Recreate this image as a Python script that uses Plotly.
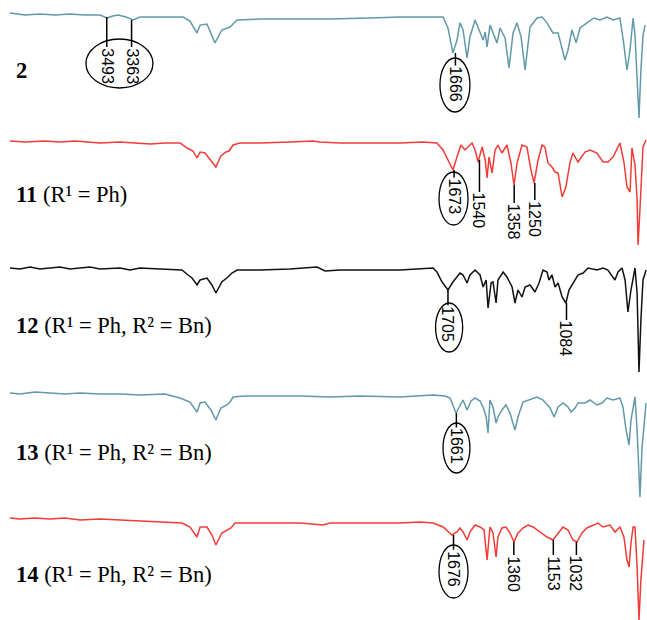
import plotly.graph_objects as go

# ---------------- data (wavenumber cm-1, transmittance %) ----------------
wn_2 = [4000, 3921, 3843, 3764, 3686, 3607, 3528, 3492, 3466, 3434, 3392, 3355, 3319, 3214, 3093,
        3057, 3020, 3004, 2968, 2926, 2890, 2847, 2837, 2810, 2690, 2480, 2323, 2114, 1956, 1731,
        1705, 1679, 1658, 1642, 1626, 1605, 1590, 1563, 1537, 1521, 1510, 1500, 1485, 1469, 1448,
        1432, 1406, 1385, 1364, 1343, 1322, 1301, 1275, 1238, 1212, 1186, 1155, 1128, 1107, 1092,
        1076, 1055, 1034, 1013, 977, 940, 908, 872, 840, 804, 783, 767, 751, 735, 725, 714, 704,
        694, 683, 672]
t_2 = [96, 94, 95, 94, 95, 94, 94, 91.4, 93, 94, 92.3, 89.6, 92.3, 92.3, 92.3,
       88.7, 77.9, 85, 86, 69, 80.6, 83.3, 85, 89.6, 90.5, 90.5, 90.5, 91.4, 92.3, 92.3,
       82.4, 60, 71.3, 87, 80.6, 55.4, 74.3, 89.6, 78, 71.6, 78.8, 65.3, 85, 78, 69,
       82.4, 73.4, 46.4, 78, 87, 74.3, 44.6, 83.3, 91.4, 92.3, 87, 78, 78, 62.6, 53.6,
       62.6, 80.6, 69, 82.4, 87, 91.4, 89.6, 92.3, 89.6, 91.4, 67, 44.6, 62.6, 91.4, 76, 35.6, 1.4,
       44.6, 76, 85]

wn_11 = [4000, 3921, 3817, 3738, 3659, 3528, 3424, 3319, 3266, 3188, 3109, 3072, 3041, 3020, 3004,
         2978, 2947, 2921, 2895, 2868, 2852, 2831, 2795, 2690, 2533, 2412, 2376, 2271, 2114, 1956,
         1836, 1763, 1731, 1705, 1679, 1658, 1637, 1616, 1600, 1579, 1563, 1547, 1526, 1510, 1500,
         1490, 1474, 1458, 1443, 1422, 1396, 1375, 1359, 1343, 1317, 1291, 1270, 1254, 1233, 1212,
         1197, 1181, 1160, 1144, 1128, 1107, 1087, 1066, 1050, 1024, 987, 961, 924, 893, 867, 840,
         804, 783, 767, 751, 741, 725, 714, 709, 699, 683, 667]
t_11 = [95.9, 95, 95.9, 95, 95.9, 94.1, 95, 94.1, 93.2, 94.1, 94.1, 89.6, 86.9, 80.6, 86,
        85.1, 78.8, 72.5, 82.4, 86, 86.9, 92.3, 94.1, 94.1, 95, 95.9, 95, 94.1, 94.1, 94.1,
        95, 94.1, 87.8, 78.8, 69.8, 81.5, 92.3, 87.8, 90.5, 94.1, 87.8, 77, 90.5, 78.8, 62.6,
        81.5, 67.1, 87.8, 92.3, 85.1, 92.3, 76.1, 56.3, 76.1, 92.3, 90.5, 69.8, 58.1, 78.8, 92.3,
        90.5, 76.1, 72.5, 68, 67.1, 45.5, 54.5, 76.1, 85.1, 77, 86, 87.8, 85.1, 77, 77, 81.5,
        94.1, 77, 54.5, 50, 89.6, 74.3, 42.8, 2.3, 34.4, 90.5, 96.8]

wn_12 = [4000, 3948, 3895, 3843, 3790, 3738, 3686, 3633, 3581, 3528, 3424, 3371, 3319, 3214, 3099,
         3067, 3046, 3020, 3004, 2968, 2942, 2921, 2890, 2858, 2837, 2810, 2690, 2533, 2391, 2349,
         2271, 2114, 1956, 1783, 1763, 1736, 1705, 1679, 1642, 1626, 1605, 1590, 1563, 1537, 1521,
         1505, 1495, 1479, 1469, 1453, 1443, 1416, 1396, 1369, 1354, 1338, 1317, 1301, 1275, 1249,
         1228, 1207, 1186, 1176, 1160, 1144, 1128, 1107, 1087, 1071, 1050, 1024, 997, 971, 924,
         893, 867, 846, 830, 814, 793, 777, 762, 746, 725, 714, 704, 694, 683, 667]
t_12 = [95, 94.1, 95.9, 94.1, 95, 95.9, 94.1, 95, 95.9, 94.1, 95, 93.2, 95, 94.1, 93.2,
        88.7, 86, 79.7, 84.2, 86, 79.7, 72.5, 82.4, 86.9, 90.5, 93.2, 93.2, 94.1, 95.9, 92.3,
        93.2, 93.2, 93.2, 95, 91.4, 82.4, 75.2, 82.4, 90.5, 88.7, 81.5, 88.7, 93.2, 88.7, 77.9,
        84.2, 59, 81.5, 82.4, 63.5, 84.2, 91.4, 86.9, 77.9, 63.5, 75.2, 68.9, 77.9, 79.7, 73.4,
        81.5, 93.2, 91.4, 84.2, 88.7, 77.9, 81.5, 68.9, 63.5, 75.2, 81.5, 88.7, 90.5, 95, 93.2,
        95, 93.2, 88.7, 84.2, 91.4, 95, 84.2, 55.4, 75.2, 95, 72.5, 1.4, 48.2, 84.2, 93.2]

wn_13 = [4000, 3948, 3869, 3790, 3712, 3633, 3528, 3424, 3319, 3188, 3109, 3057, 3020, 3004, 2978,
         2947, 2921, 2895, 2863, 2847, 2831, 2769, 2638, 2480, 2323, 2166, 1956, 1783, 1721, 1694,
         1663, 1642, 1626, 1605, 1584, 1563, 1537, 1521, 1505, 1495, 1485, 1469, 1453, 1443, 1422,
         1401, 1380, 1354, 1338, 1312, 1286, 1238, 1207, 1170, 1149, 1128, 1102, 1076, 1060, 1039,
         1024, 987, 961, 924, 898, 872, 840, 804, 788, 772, 756, 746, 725, 714, 699, 688, 667]
t_13 = [95, 94.1, 95.9, 95, 94.1, 95, 94.1, 94.1, 93.2, 94.1, 90.5, 86.9, 77.9, 86, 86.9,
        79.7, 70.7, 81.5, 84.2, 86.9, 91.4, 92.3, 92.3, 92.3, 91.4, 92.3, 91.4, 93.2, 92.3, 90.5,
        77, 84.2, 88.7, 79.7, 87.8, 90.5, 87.8, 82.4, 73.4, 59, 88.7, 82.4, 68, 73.4, 79.7,
        84.2, 77, 61.7, 73.4, 86.9, 88.7, 91.4, 88.7, 81.5, 73.4, 82.4, 86, 82.4, 77.9, 81.5,
        86, 86, 88.7, 84.2, 86, 90.5, 88.7, 90.5, 82.4, 61.7, 48.2, 70.7, 91.4, 61.7, 1.4, 46.4, 86]

wn_14 = [4000, 3948, 3869, 3790, 3712, 3633, 3528, 3424, 3319, 3178, 3099, 3057, 3020, 3004, 2968,
         2942, 2921, 2890, 2863, 2842, 2821, 2690, 2480, 2360, 2323, 2114, 1956, 1852, 1783, 1731,
         1684, 1658, 1642, 1626, 1605, 1590, 1563, 1537, 1516, 1500, 1485, 1469, 1453, 1443, 1422,
         1401, 1380, 1359, 1338, 1312, 1286, 1259, 1223, 1186, 1155, 1128, 1102, 1076, 1050, 1029,
         1003, 977, 945, 919, 893, 856, 830, 804, 783, 767, 756, 746, 735, 725, 714, 704, 694, 678]
t_14 = [95, 94.1, 95, 94.1, 95, 93.2, 94.1, 93.2, 92.3, 91.4, 90.5, 86.9, 77.9, 86.9, 86.9,
        79.7, 70.7, 81.5, 84.2, 86, 90.5, 90.5, 90.5, 88.7, 90.5, 90.5, 90.5, 91.4, 90.5, 86.9,
        79.7, 82.4, 86, 82.4, 75.2, 82.4, 88.7, 86.9, 84.2, 57.2, 86.9, 81.5, 59.9, 77.9, 86,
        86.9, 81.5, 73.4, 81.5, 86, 88.7, 86.9, 82.4, 77.9, 75.2, 81.5, 86.9, 84.2, 75.2, 73.4,
        81.5, 86, 88.7, 90.5, 86.9, 88.7, 82.4, 86.9, 77.9, 57.2, 50.9, 72.5, 86.9, 86.9, 50.9, 3.2, 39.2, 75.2]

compound_labels = ["<b>2</b>", "<b>11</b> (R¹ = Ph)", "<b>12</b> (R¹ = Ph, R² = Bn)",
                   "<b>13</b> (R¹ = Ph, R² = Bn)", "<b>14</b> (R¹ = Ph, R² = Bn)"]

# peak labels per spectrum (cm-1)
peaks_2 = [3493, 3363, 1666]
peaks_11 = [1673, 1540, 1358, 1250]
peaks_12 = [1705, 1084]
peaks_13 = [1661]
peaks_14 = [1676, 1360, 1153, 1032]

# ---------------- layout / styling ----------------
W, H = 647, 620
TEAL = "#6199a9"
RED = "#f23b36"
BLACK = "#111111"

spectra = [
    (wn_2, t_2, TEAL, 14),
    (wn_11, t_11, RED, 142),
    (wn_12, t_12, BLACK, 268),
    (wn_13, t_13, TEAL, 393),
    (wn_14, t_14, RED, 518),
]
label_py = [71, 195, 325, 452, 574]

# tick-line geometry (T start, T end of line) for each peak label, per spectrum
tick_geom = [
    [(92.3, 65.3), (89.6, 65.3), (59.9, 48.6)],
    [(69.8, 63.0), (78.8, 50.0), (56.3, 40.1), (58.1, 42.8)],
    [(75.2, 61.5), (63.5, 48.2)],
    [(77.0, 64.0)],
    [(79.7, 66.5), (73.4, 61.7), (75.2, 61.7), (73.4, 61.7)],
]
all_peaks = [peaks_2, peaks_11, peaks_12, peaks_13, peaks_14]

# ellipses: (spectrum idx, wn left, wn right, T top, T bottom)
ellipses = [
    (0, 3602, 3251, 72.5, 28.4),
    (0, 1747, 1590, 55.4, 6.8),
    (1, 1752, 1600, 68.0, 20.3),
    (2, 1770, 1628, 63.5, 19.4),
    (3, 1731, 1590, 68.0, 23.0),
    (4, 1752, 1600, 70.7, 23.0),
]

fig = go.Figure()
layout_axes = {}
for i, (wn, t, color, ref) in enumerate(spectra):
    yname = "y" if i == 0 else f"y{i+1}"
    axkey = "yaxis" if i == 0 else f"yaxis{i+1}"
    fig.add_trace(go.Scatter(x=wn, y=t, mode="lines", yaxis=yname, xaxis="x",
                             line=dict(color=color, width=1.5), hoverinfo="skip",
                             showlegend=False))
    top = ref - 12
    bottom = min(ref + 112, H)
    layout_axes[axkey] = dict(domain=[1 - bottom / H, 1 - top / H],
                              range=[95 - 0.9 * (bottom - ref), 95 + 0.9 * (ref - top)],
                              visible=False, anchor="x", fixedrange=True)

shapes = []
annotations = []
for i, peaks in enumerate(all_peaks):
    yref = "y" if i == 0 else f"y{i+1}"
    for p, (t0, t1) in zip(peaks, tick_geom[i]):
        shapes.append(dict(type="line", xref="x", yref=yref, x0=p, x1=p, y0=t0, y1=t1,
                           line=dict(color="black", width=1.5)))
        annotations.append(dict(x=p, y=t1, xref="x", yref=yref, text=str(p), textangle=90,
                                showarrow=False, xanchor="center", yanchor="top",
                                borderpad=0,
                                font=dict(family="Liberation Sans Narrow, Arial Narrow, Liberation Sans",
                                          size=16, color="black")))
for (i, x0, x1, y0, y1) in ellipses:
    yref = "y" if i == 0 else f"y{i+1}"
    shapes.append(dict(type="circle", xref="x", yref=yref, x0=x0, x1=x1, y0=y1, y1=y0,
                       line=dict(color="black", width=1.3)))

for lab, py in zip(compound_labels, label_py):
    annotations.append(dict(x=14 / W, y=1 - py / H, xref="paper", yref="paper", text=lab,
                            showarrow=False, xanchor="left", yanchor="middle",
                            font=dict(family="Liberation Serif, Times New Roman, serif",
                                      size=22.5, color="black")))

fig.update_layout(
    width=W, height=H,
    margin=dict(l=0, r=0, t=0, b=0),
    paper_bgcolor="white", plot_bgcolor="white",
    xaxis=dict(range=[4052.4, 662.1], visible=False, domain=[0, 1], anchor="y", fixedrange=True),
    shapes=shapes, annotations=annotations,
    **layout_axes,
)

fig.write_html("out.html", config={"displayModeBar": False},
               post_script="document.body.style.margin='0';document.body.style.overflow='hidden';")
